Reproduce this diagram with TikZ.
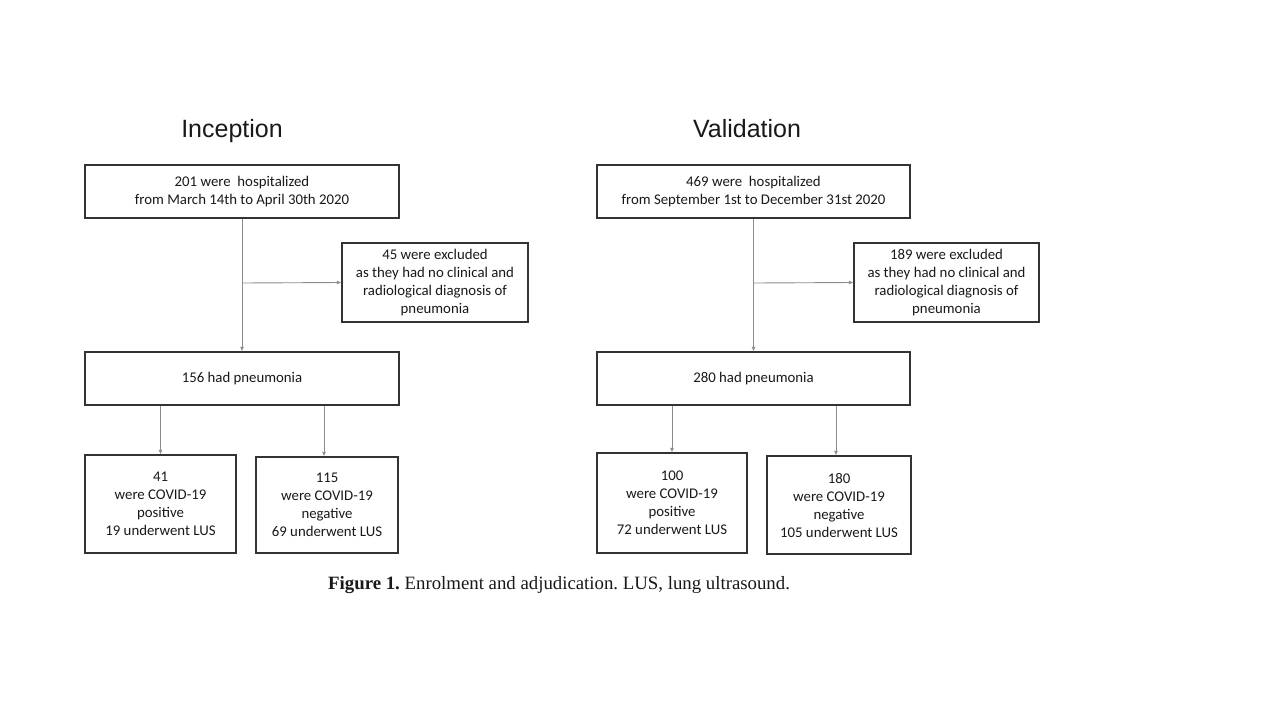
\documentclass[tikz,border=0pt]{standalone}
\usepackage{fontspec}
\setmainfont{Liberation Serif}
\newfontfamily\boxfont{Carlito}
\newfontfamily\titlefont{Liberation Sans}
\usetikzlibrary{arrows.meta}
\frenchspacing
\begin{document}
\begin{tikzpicture}[x=1pt,y=-1pt,
  box/.style={draw=black!80,line width=1.1pt,inner sep=0pt,align=center,
    font=\boxfont\fontsize{14.8}{18}\selectfont,text=black!90},
  conn/.style={draw=black!45,line width=0.9pt,-{Latex[length=4.5pt,width=4pt]}},
  ttl/.style={font=\titlefont\fontsize{25}{28}\selectfont,text=black!90,anchor=base,inner sep=0pt}]
\useasboundingbox[fill=white] (0,0) rectangle (1280,720);
% titles
\node[ttl] (t1) at (232,137) {Inception};
\node[ttl] (t2) at (747,137) {Validation};
% left column
\node[box,minimum width=314pt,minimum height=53pt] (top1) at (242,191.5) {201 were\ \ hospitalized\\from March 14th to April 30th 2020};
\node[box,minimum width=186pt,minimum height=79pt] (exc1) at (435,282.5) {45 were excluded\\as they had no clinical and\\radiological diagnosis of\\pneumonia};
\node[box,minimum width=314pt,minimum height=53pt] (pn1) at (242,378.5) {156 had pneumonia};
\node[box,minimum width=151pt,minimum height=98pt] (pos1) at (160.5,504) {41\\were COVID-19\\positive\\19 underwent\ LUS};
\node[box,minimum width=142pt,minimum height=96pt] (neg1) at (327,505) {115\\were COVID-19\\negative\\69 underwent\ LUS};
\coordinate (b1) at (242,283);
\draw[conn] (top1.south) -- (pn1.north);
\draw[conn] (b1) -- (exc1.west);
\draw[conn] (pos1.north |- pn1.south) -- (pos1.north);
\draw[conn] ([xshift=-3pt]neg1.north |- pn1.south) -- ([xshift=-3pt]neg1.north);
% right column
\node[box,minimum width=313pt,minimum height=53pt] (top2) at (753.5,191.5) {469 were\ \ hospitalized\\from September\ 1st to December\ 31st 2020};
\node[box,minimum width=185pt,minimum height=79pt] (exc2) at (946.5,282.5) {189 were excluded\\as they had no clinical and\\radiological diagnosis of\\pneumonia};
\node[box,minimum width=313pt,minimum height=53pt] (pn2) at (753.5,378.5) {280 had pneumonia};
\node[box,minimum width=150pt,minimum height=100pt] (pos2) at (672,503) {100\\were COVID-19\\positive\\72 underwent\ LUS};
\node[box,minimum width=144pt,minimum height=98pt] (neg2) at (839,505) {180\\were COVID-19\\negative\\105 underwent\ LUS};
\coordinate (b2) at (754,283);
\draw[conn] (top2.south) -- (pn2.north);
\draw[conn] (b2) -- (exc2.west);
\draw[conn] (pos2.north |- pn2.south) -- (pos2.north);
\draw[conn] ([xshift=-3pt]neg2.north |- pn2.south) -- ([xshift=-3pt]neg2.north);
% caption
\node[anchor=west,font=\fontsize{18.8}{20}\selectfont,text=black!90,inner sep=0pt] (cap) at (328,585) {\textbf{Figure 1.} Enrolment and adjudication. LUS, lung ultrasound.};
\end{tikzpicture}
\end{document}
